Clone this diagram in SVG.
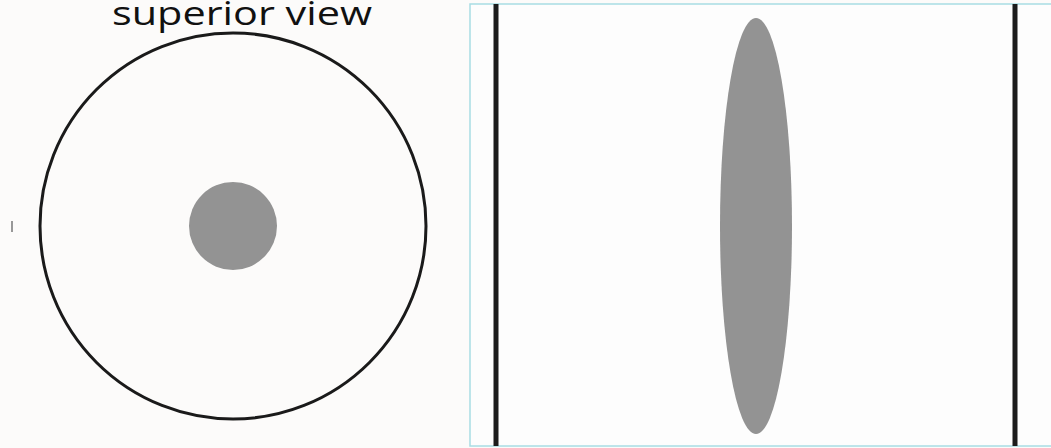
<svg xmlns="http://www.w3.org/2000/svg" width="1051" height="448" viewBox="0 0 1051 448">
<style>
.lbl{font-family:"Open Sans","Noto Sans",sans-serif;font-size:33px;fill:#111}
.bar{stroke:#1c1c1c;stroke-width:5}
.blob{fill:#939393}
</style>
<rect x="0" y="0" width="1051" height="448" fill="#fcfbfa"/>
<g id="superior-view">
<text class="lbl" x="242" y="25" text-anchor="middle" textLength="260" lengthAdjust="spacingAndGlyphs">superior view</text>
<circle cx="233" cy="226" r="193" fill="none" stroke="#1a1a1a" stroke-width="3"/>
<circle class="blob" cx="233" cy="226" r="44"/>
<line x1="12" y1="221" x2="12" y2="232" stroke="#777" stroke-width="1.5"/>
</g>
<g id="side-view">
<rect x="470" y="4" width="590" height="442" fill="#fdfdfd" stroke="#a8dde4" stroke-width="1.5"/>
<line class="bar" x1="496" y1="4" x2="496" y2="446"/>
<line class="bar" x1="1015" y1="4" x2="1015" y2="446"/>
<ellipse class="blob" cx="756" cy="226" rx="36" ry="208"/>
</g>
<g id="connectors"/>
</svg>
